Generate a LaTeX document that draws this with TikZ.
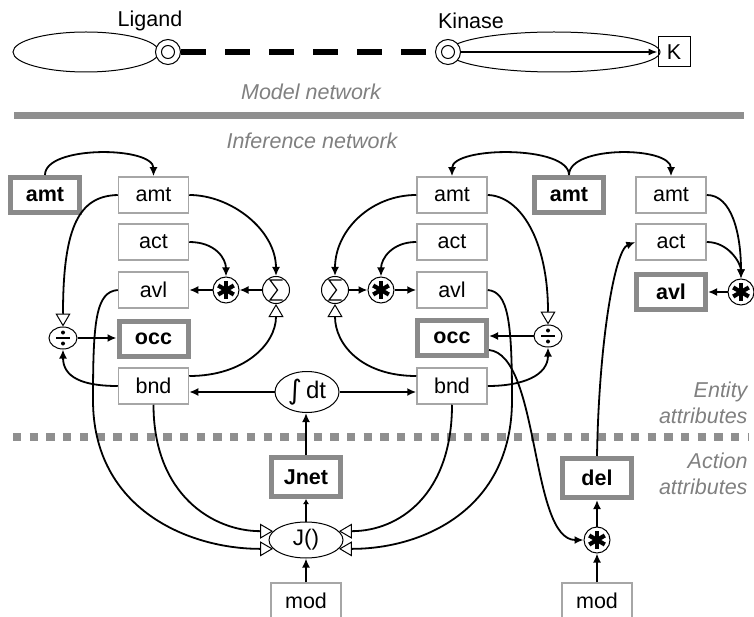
\documentclass[tikz,border=0pt]{standalone}
\usepackage{fontspec}
\setmainfont{Liberation Sans}
\newfontfamily\symf{DejaVu Sans}
\usetikzlibrary{arrows.meta,shapes.geometric,calc}

\definecolor{framegray}{HTML}{A6A6A6}
\definecolor{boldgray}{HTML}{8A8A8A}
\definecolor{labelgray}{HTML}{808080}
\definecolor{bargray}{HTML}{8F8F8F}

\tikzset{
  lbl/.style={font=\fontsize{21.5}{25}\selectfont},
  thinbox/.style={draw=framegray, line width=1.5pt, minimum width=70pt,
    minimum height=36pt, inner sep=0pt, lbl},
  boldbox/.style={draw=boldgray, line width=5pt, minimum width=69pt,
    minimum height=35pt, inner sep=0pt, font=\fontsize{21.5}{25}\selectfont\bfseries},
  opcircle/.style={circle, draw, line width=1pt, inner sep=0pt, minimum size=#1},
  % circled heavy asterisk: product
  mulop/.style={opcircle=26pt, path picture={
      \foreach \a in {90,30,150}
        \draw[line width=4.2pt]
          ($(path picture bounding box.center)+(\a:9pt)$) --
          ($(path picture bounding box.center)-(\a:9pt)$);}},
  % circled summation sign
  sumop/.style={opcircle=27pt, path picture={
      \draw[line width=1.2pt, line join=miter]
        ($(path picture bounding box.center)+(6.5pt,10pt)$) --
        ($(path picture bounding box.center)+(-6pt,10pt)$) --
        ($(path picture bounding box.center)+(1.5pt,0pt)$) --
        ($(path picture bounding box.center)+(-6pt,-10pt)$) --
        ($(path picture bounding box.center)+(6.5pt,-10pt)$);}},
  % division sign in an ellipse
  divop/.style={ellipse, draw, line width=1pt, minimum width=28pt,
    minimum height=22pt, inner sep=0pt, path picture={
      \draw[line width=2.6pt]
        ($(path picture bounding box.center)+(-7pt,0pt)$) --
        ($(path picture bounding box.center)+(7pt,0pt)$);
      \fill ($(path picture bounding box.center)+(0pt,5.5pt)$) circle (2pt);
      \fill ($(path picture bounding box.center)+(0pt,-5.5pt)$) circle (2pt);}},
  site/.style={circle, draw, line width=1pt, fill=white, minimum size=25pt, inner sep=0pt},
  core/.style={circle, draw, line width=1pt, minimum size=13pt, inner sep=0pt},
  conn/.style={line width=1.8pt},
  arr/.style={conn, -{Latex[length=9pt,width=8pt]}},
  oarr/.style={conn, -{Triangle[open,length=13pt,width=15pt,fill=white,line width=1pt]}},
  note/.style={font=\fontsize{21.5}{26}\selectfont\itshape, text=labelgray},
}

\begin{document}
\begin{tikzpicture}[x=1pt, y=-1pt]
\useasboundingbox (0,0) rectangle (754,617);

% ---------- model network ----------
\node[ellipse, draw, line width=1pt, minimum width=146pt, minimum height=40pt] (ligbody) at (86,52) {};
\node[site] (ligsite) at (168,52) {};
\node[core] (ligcore) at (ligsite) {};
\node[lbl] (ligname) at (150,21) {Ligand};

\node[ellipse, draw, line width=1pt, minimum width=212pt, minimum height=40pt] (kinbody) at (554,52) {};
\node[site] (kinsite) at (448,52) {};
\node[core] (kincore) at (kinsite) {};
\node[lbl] (kinname) at (471,21) {Kinase};
\node[draw, line width=1pt, minimum width=32pt, minimum height=30pt, inner sep=0pt, lbl] (kres) at (674,52) {K};

\draw[line width=6pt, dash pattern=on 25pt off 19pt] (ligsite.east) -- (kinsite.west);
\draw[line width=1.5pt, -{Latex[length=9pt,width=7pt]}] (kinsite.east) -- (kres.west);

\node[note] (modelnet) at (311,92) {Model network};
\draw[bargray, line width=7pt] (14,115.5) -- (744,115.5);
\node[note] (infnet) at (312,141) {Inference network};

% ---------- layer separator and side labels ----------
\draw[bargray, line width=8pt, dash pattern=on 8.3pt off 8.4pt] (13,437) -- (748,437);
\node[note, align=right, anchor=east] (entity) at (751,403) {Entity\\attributes};
\node[note, align=right, anchor=east] (action) at (751,474) {Action\\attributes};

% ---------- ligand entity ----------
\node[boldbox] (amtLb) at (45,195) {amt};
\node[thinbox] (amtL) at (153.5,195) {amt};
\node[thinbox] (actL) at (153.5,242) {act};
\node[thinbox] (avlL) at (153.5,290) {avl};
\node[boldbox] (occL) at (153.5,339) {occ};
\node[thinbox] (bndL) at (153.5,386) {bnd};
\node[mulop] (mulL) at (226,290) {};
\node[sumop] (sumL) at (276,290) {};
\node[divop] (divL) at (63,338) {};

% ---------- kinase entity ----------
\node[thinbox] (amtR) at (452,195) {amt};
\node[thinbox] (actR) at (452,242) {act};
\node[thinbox] (avlR) at (452,290) {avl};
\node[boldbox] (occR) at (452,338) {occ};
\node[thinbox] (bndR) at (452,386) {bnd};
\node[sumop] (sumR) at (335,290) {};
\node[mulop] (mulR) at (381,290) {};
\node[divop] (divR) at (548,336) {};
\node[boldbox] (amtRb) at (569,195) {amt};

% ---------- product entity ----------
\node[thinbox] (amtS) at (671,195) {amt};
\node[thinbox] (actS) at (671,242) {act};
\node[boldbox] (avlS) at (671,292) {avl};
\node[mulop] (mulS) at (741,292) {};

% ---------- actions ----------
\node[ellipse, draw, line width=1pt, minimum width=64pt, minimum height=41pt, inner sep=0pt,
  font=\fontsize{24}{26}\selectfont]
  (intdt) at (307,392) {\raisebox{-1pt}{\symf\fontsize{27}{27}\selectfont ∫}\,dt};
\node[boldbox, minimum height=39pt] (jnet) at (306,477) {Jnet};
\node[ellipse, draw, line width=1pt, minimum width=74pt, minimum height=36pt, inner sep=0pt,
  font=\fontsize{22.5}{25}\selectfont]
  (flux) at (306,540) {J()};
\node[thinbox] (modL) at (306,601) {mod};

\node[boldbox, minimum height=39pt] (del) at (597,478) {del};
\node[mulop] (mulB) at (597,540) {};
\node[thinbox] (modR) at (597,601) {mod};

% ---------- ligand connectors ----------
\draw[arr] (amtLb.north) .. controls +(0,-30) and +(0,-30) .. (amtL.north);
\draw[oarr] (amtL.west) .. controls (80,196) and +(0,-102) .. (divL.north);
\draw[arr] (amtL.east) .. controls +(42,0) and +(0,-46) .. (sumL.north);
\draw[arr] (actL.east) .. controls +(26,0) and +(0,-18) .. (mulL.north);
\draw[arr] (sumL.west) -- (mulL.east);
\draw[arr] (mulL.west) -- (avlL.east);
\draw[arr] (divL.east) -- (divL.east -| occL.west);
\draw[arr] (bndL.west) .. controls +(-35,0) and +(0,28) .. (divL.south);
\draw[oarr] ([yshift=10pt]bndL.east) .. controls +(55,0) and +(0,40) .. (sumL.south);

% ---------- kinase connectors ----------
\draw[arr] (amtRb.north) .. controls +(0,-30) and +(0,-30) .. (amtR.north);
\draw[arr] (amtRb.north) .. controls +(0,-30) and +(0,-30) .. (amtS.north);
\draw[oarr] (amtR.east) .. controls (520,196) and +(0,-85) .. (divR.north);
\draw[arr] (amtR.west) .. controls +(-45,0) and +(0,-46) .. (sumR.north);
\draw[arr] (actR.west) .. controls +(-24,0) and +(0,-18) .. (mulR.north);
\draw[arr] (sumR.east) -- (mulR.west);
\draw[arr] (mulR.east) -- (avlR.west);
\draw[arr] (divR.west) -- (divR.west -| occR.east);
\draw[arr] (bndR.east) .. controls +(35,0) and +(0,28) .. (divR.south);
\draw[oarr] ([yshift=10pt]bndR.west) .. controls +(-55,0) and +(0,40) .. (sumR.south);

% ---------- product connectors ----------
\draw[arr] (amtS.east) .. controls +(25,0) and +(0,-45) .. (mulS.north);
\draw[arr] (actS.east) .. controls +(22,0) and +(0,-15) .. (mulS.north);
\draw[arr] (mulS.west) -- (avlS.east);

% ---------- binding flux ----------
\draw[arr] (intdt.west) -- (intdt.west -| bndL.east);
\draw[arr] (intdt.east) -- (intdt.east -| bndR.west);
\draw[arr] (jnet.north) -- (jnet.north |- intdt.south);
\draw[conn, -{Latex[length=5pt,width=6pt]}] (flux.north) -- (jnet.south);
\draw[arr] (modL.north) -- (flux.south);
\draw[oarr] (bndL.south) .. controls +(0,90) and +(-60,0) .. (flux.165);
\draw[oarr] (avlL.west) .. controls (96,292) and (93,320) .. (93,400)
  .. controls (93,510) and (190,549) .. (flux.195);
\draw[oarr] (bndR.south) .. controls +(0,90) and +(60,0) .. (flux.15);
\draw[oarr] (avlR.east) .. controls (508,292) and (512,320) .. (512,400)
  .. controls (512,510) and (422,549) .. (flux.-15);

% ---------- phosphorylation ----------
\draw[arr] ([yshift=-12pt]occR.east) .. controls (540,355) and (530,540) .. (mulB.west);
\draw[arr] (mulB.north) -- (del.south);
\draw[arr] (modR.north) -- (mulB.south);
\draw[arr] (del.north) .. controls (599,340) and (615,250) .. (actS.west);
\end{tikzpicture}
\end{document}
